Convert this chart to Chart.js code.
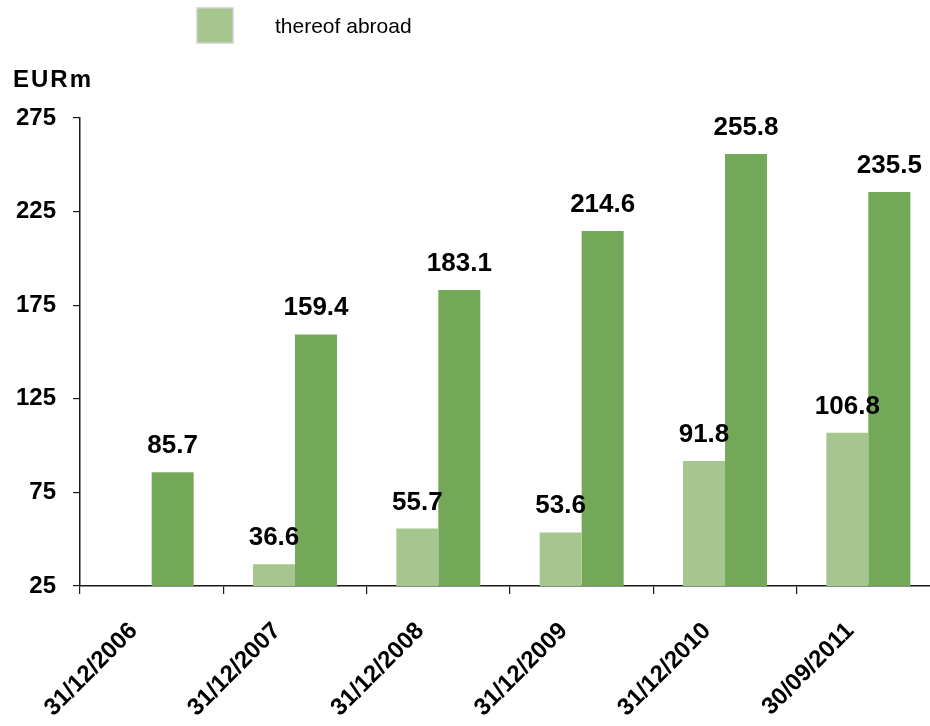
<!DOCTYPE html>
<html>
<head>
<meta charset="utf-8">
<title>EURm</title>
<script src="https://cdn.jsdelivr.net/npm/chart.js@4"></script>
<style>
  html, body { margin: 0; padding: 0; background: #fff; overflow: hidden; }
  #wrap { position: relative; width: 940px; height: 726px; }
</style>
</head>
<body>
<div id="wrap"><canvas id="abroadChart"></canvas></div>
<script>
/* ===============================
   DATA
================================ */
const categories = ["31/12/2006", "31/12/2007", "31/12/2008", "31/12/2009", "31/12/2010", "30/09/2011"];
const abroadValues = [null, 36.6, 55.7, 53.6, 91.8, 106.8];
const totalValues = [85.7, 159.4, 183.1, 214.6, 255.8, 235.5];
const yTicks = [25, 75, 125, 175, 225, 275];

const seriesLabels = ["thereof abroad", "total"];
const unitLabel = "EURm";

/* ===============================
   STYLE
================================ */
const LIGHT_GREEN = "#a5c68e";
const DARK_GREEN = "#73a858";
const AXIS_COLOR = "#1a1a1a";
const FONT = "'Liberation Sans', Arial, Helvetica, sans-serif";

/* ===============================
   PLUGINS
================================ */
// value labels above each bar
const barLabels = {
  id: "barLabels",
  afterDatasetsDraw(chart) {
    const ctx = chart.ctx;
    ctx.save();
    ctx.font = "bold 26px " + FONT;
    ctx.fillStyle = "#000";
    ctx.textAlign = "center";
    ctx.textBaseline = "alphabetic";
    chart.data.datasets.forEach((ds, i) => {
      const meta = chart.getDatasetMeta(i);
      meta.data.forEach((bar, j) => {
        const v = ds.data[j];
        if (v === null || v === undefined) return;
        ctx.fillText(v.toFixed(1), bar.x, bar.y - 19);
      });
    });
    ctx.restore();
  },
};

// legend (only the abroad series) and unit title
const topNotes = {
  id: "topNotes",
  afterDraw(chart) {
    const ctx = chart.ctx;
    const ds = chart.data.datasets[0];
    ctx.save();
    ctx.fillStyle = ds.backgroundColor;
    ctx.fillRect(197, 8, 36, 35);
    ctx.strokeStyle = "#d0d0d0";
    ctx.lineWidth = 1.5;
    ctx.strokeRect(197, 8, 36, 35);

    ctx.fillStyle = "#000";
    ctx.font = "21px " + FONT;
    ctx.textAlign = "left";
    ctx.textBaseline = "middle";
    ctx.fillText(ds.label, 275, 27);

    ctx.font = "bold 24px " + FONT;
    ctx.letterSpacing = "2px";
    ctx.fillText(unitLabel, 13, 80);
    ctx.restore();
  },
};

/* ===============================
   CHART
================================ */
document.addEventListener("DOMContentLoaded", () => {
  const el = document.getElementById("abroadChart");

  new Chart(el, {
    type: "bar",
    data: {
      labels: categories,
      datasets: [
        {
          label: seriesLabels[0],
          data: abroadValues,
          backgroundColor: LIGHT_GREEN,
          categoryPercentage: 0.586,
          barPercentage: 1.0,
        },
        {
          label: seriesLabels[1],
          data: totalValues,
          backgroundColor: DARK_GREEN,
          categoryPercentage: 0.586,
          barPercentage: 1.0,
        },
      ],
    },
    options: {
      responsive: true,
      maintainAspectRatio: false,
      animation: false,
      layout: {
        padding: { top: 118, right: 0, bottom: 0, left: 0 },
      },
      plugins: {
        legend: { display: false },
        tooltip: { enabled: false },
      },
      scales: {
        x: {
          grid: {
            offset: true,
            drawOnChartArea: false,
            drawTicks: true,
            tickLength: 8,
            color: AXIS_COLOR,
            lineWidth: 1.2,
          },
          border: { display: true, color: AXIS_COLOR, width: 1.5 },
          ticks: {
            color: "#000",
            font: { family: FONT, size: 24, weight: "bold" },
            minRotation: 45,
            maxRotation: 45,
            padding: 23,
            labelOffset: -18,
          },
          afterFit(scale) {
            scale.height = 140;
          },
        },
        y: {
          min: yTicks[0],
          max: yTicks[yTicks.length - 1],
          afterBuildTicks(scale) {
            scale.ticks = yTicks.map((v) => ({ value: v }));
          },
          grid: {
            drawOnChartArea: false,
            drawTicks: true,
            tickLength: 7,
            color: AXIS_COLOR,
            lineWidth: 1.2,
          },
          border: { display: true, color: AXIS_COLOR, width: 1.5 },
          ticks: {
            color: "#000",
            font: { family: FONT, size: 24, weight: "bold" },
            padding: 17,
          },
          afterFit(scale) {
            scale.width = 80;
          },
        },
      },
    },
    plugins: [barLabels, topNotes],
  });
});
</script>
</body>
</html>
